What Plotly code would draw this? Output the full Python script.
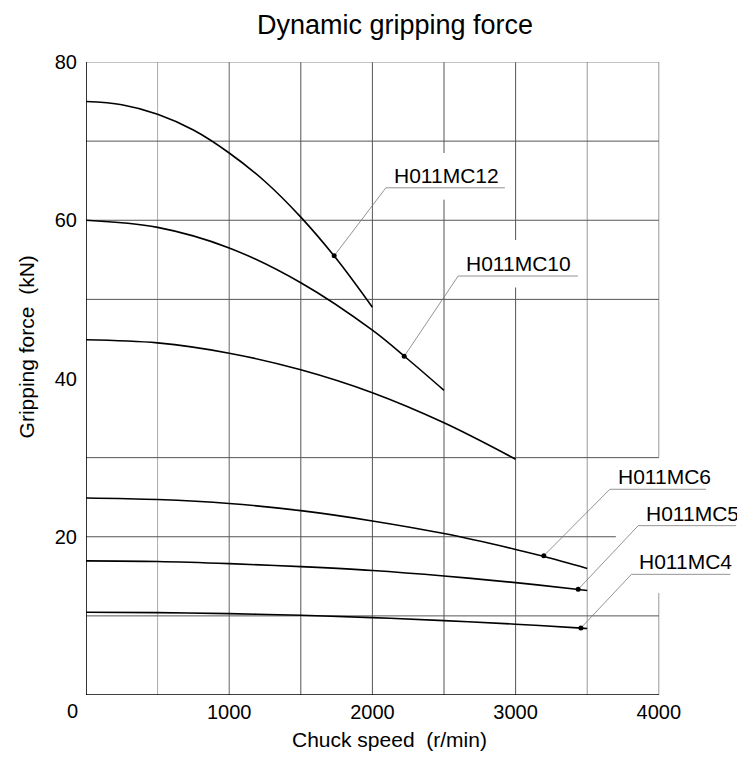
import plotly.graph_objects as go

# chuck speed (r/min) and dynamic gripping force (kN) per chuck
speed_mc12 = [0, 250, 500, 750, 1000, 1250, 1500, 1750, 2000]
force_mc12 = [75.0, 74.6, 73.4, 71.4, 68.5, 64.9, 60.4, 55.1, 49.0]

speed_mc10 = [0, 500, 1000, 1500, 2000, 2250, 2500]
force_mc10 = [60.0, 59.1, 56.5, 52.1, 46.1, 42.4, 38.5]

speed_mc8 = [0, 500, 1000, 1500, 2000, 2500, 3000]
force_mc8 = [44.9, 44.5, 43.2, 41.1, 38.2, 34.4, 29.8]

speed_mc6 = [0, 500, 1000, 1500, 2000, 2500, 3000, 3200, 3500]
force_mc6 = [24.9, 24.7, 24.2, 23.3, 22.0, 20.4, 18.4, 17.5, 16.0]

speed_mc5 = [0, 500, 1000, 1500, 2000, 2500, 3000, 3440, 3500]
force_mc5 = [16.95, 16.87, 16.6, 16.22, 15.73, 15.04, 14.2, 13.33, 13.2]

speed_mc4 = [0, 500, 1000, 1500, 2000, 2500, 3000, 3460, 3500]
force_mc4 = [10.45, 10.41, 10.28, 10.07, 9.78, 9.4, 8.95, 8.45, 8.4]

# labelled points (dot on curve), underline start and end of each label
label_names = ["H011MC12", "H011MC10", "H011MC6", "H011MC5", "H011MC4"]
dot_speed = [1733, 2222, 3197, 3437, 3456]
dot_force = [55.5, 42.8, 17.6, 13.35, 8.47]
label_speed = [2094, 2599, 3658, 3856, 3809]
label_force = [64.1, 52.95, 26.0, 21.4, 15.25]
label_end = [2925, 3435, 4330, 4540, 4500]

x_ticks = [1000, 2000, 3000, 4000]
y_ticks = [20, 40, 60, 80]

FONT = "Liberation Sans, Arial"

fig = go.Figure()

curves = [(speed_mc12, force_mc12), (speed_mc10, force_mc10), (speed_mc8, force_mc8),
          (speed_mc6, force_mc6), (speed_mc5, force_mc5), (speed_mc4, force_mc4)]
for sx, sy in curves:
    fig.add_trace(go.Scatter(x=sx, y=sy, mode="lines", line_shape="spline",
                             line=dict(color="black", width=1.6), showlegend=False,
                             hoverinfo="skip"))

shapes = []

def seg(x0, y0, x1, y1, color="#555", width=1):
    shapes.append(dict(type="line", xref="x", yref="y", x0=x0, y0=y0, x1=x1, y1=y1,
                       line=dict(color=color, width=width), layer="below"))

# vertical grid (some lines broken where labels sit)
seg(500, 0, 500, 80, "#aaa")
seg(1000, 0, 1000, 80, "#666")
seg(1500, 0, 1500, 80)
seg(2000, 0, 2000, 80)
seg(2500, 0, 2500, 62.6)
seg(2500, 68.5, 2500, 80)
seg(3000, 0, 3000, 51.5)
seg(3000, 57.5, 3000, 80)
seg(3500, 0, 3500, 80, "#999")
seg(4000, 30, 4000, 80, "#999")
seg(4000, 0, 4000, 12.9, "#999")
# horizontal grid
seg(0, 80, 4000, 80, "#888")
for yv in [70, 60, 50, 30, 10]:
    seg(0, yv, 4000, yv)
seg(0, 20, 3700, 20)
# axes
seg(0, 0, 0, 80, "black", 1.6)
seg(0, 0, 4000, 0, "black", 1.6)

fig.update_layout(shapes=shapes)

# leader lines + underlines
for i in range(len(label_names)):
    fig.add_trace(go.Scatter(x=[dot_speed[i], label_speed[i], label_end[i]],
                             y=[dot_force[i], label_force[i], label_force[i]],
                             mode="lines", line=dict(color="#777", width=0.8),
                             showlegend=False, hoverinfo="skip"))
    fig.add_annotation(x=label_speed[i], y=label_force[i], xref="x", yref="y",
                       text=label_names[i], showarrow=False, xanchor="left",
                       yanchor="bottom", xshift=6, yshift=-1,
                       font=dict(family=FONT, size=21, color="black"))

fig.add_trace(go.Scatter(x=dot_speed, y=dot_force, mode="markers",
                         marker=dict(color="black", size=5), showlegend=False,
                         hoverinfo="skip"))

fig.add_annotation(x=0, y=0, xref="x", yref="y", text="0", showarrow=False,
                   xanchor="center", yanchor="top", xshift=-14, yshift=-3,
                   font=dict(family=FONT, size=20, color="black"))
fig.add_annotation(x=2120, y=-0.071, xref="x", yref="paper", text="Chuck speed  (r/min)",
                   showarrow=False, xanchor="center", yanchor="middle",
                   font=dict(family=FONT, size=21, color="black"))
fig.add_annotation(x=-0.091, y=44, xref="paper", yref="y", text="Gripping force  (kN)",
                   showarrow=False, textangle=-90, xanchor="center", yanchor="middle",
                   font=dict(family=FONT, size=21, color="black"))
fig.add_annotation(x=2157, y=1.058, xref="x", yref="paper", text="Dynamic gripping force",
                   showarrow=False, xanchor="center", yanchor="middle",
                   font=dict(family=FONT, size=27, color="black"))

fig.update_xaxes(range=[0, 4560], showgrid=False, zeroline=False, showline=False,
                 tickvals=x_ticks, ticks="", ticklabelstandoff=3,
                 tickfont=dict(family=FONT, size=20, color="black"))
fig.update_yaxes(range=[0, 80], showgrid=False, zeroline=False, showline=False,
                 tickvals=y_ticks, ticks="", ticklabelstandoff=8,
                 tickfont=dict(family=FONT, size=20, color="black"))

fig.update_layout(width=737, height=750, plot_bgcolor="white", paper_bgcolor="white",
                  margin=dict(l=78, r=6, t=54, b=63), showlegend=False)

fig.write_html("out.html")
